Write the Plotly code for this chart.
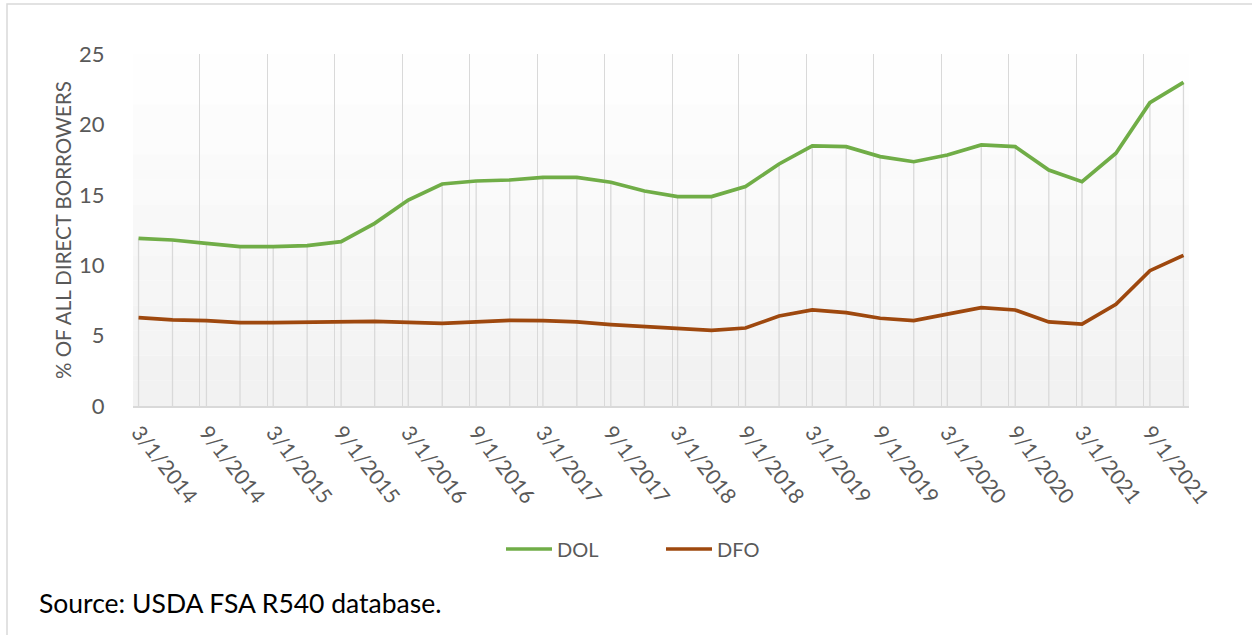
import plotly.graph_objects as go
import pandas as pd

# ---- data ----
dates = pd.date_range("2014-03-01", "2021-12-01", freq="3MS")
dol = [11.91, 11.79, 11.55, 11.32, 11.32, 11.39, 11.67, 12.97, 14.63, 15.77, 15.98, 16.05,
       16.24, 16.24, 15.89, 15.27, 14.87, 14.87, 15.58, 17.19, 18.47, 18.42, 17.71, 17.35,
       17.83, 18.54, 18.42, 16.76, 15.93, 17.95, 21.54, 22.99]
dfo = [6.27, 6.11, 6.06, 5.92, 5.92, 5.94, 6.01, 6.01, 5.94, 5.87, 5.97, 6.08,
       6.06, 5.97, 5.78, 5.63, 5.49, 5.37, 5.54, 6.39, 6.82, 6.63, 6.23, 6.06,
       6.53, 6.98, 6.82, 5.97, 5.82, 7.22, 9.61, 10.70]
series_names = ["DOL", "DFO"]
y_ticks = [0, 5, 10, 15, 20, 25]
tick_dates = list(dates[::2])
tick_text = [f"{d.month}/{d.day}/{d.year}" for d in tick_dates]

GREEN = "#70AD47"
BROWN = "#9E480E"
GRID = "#d9d9d9"
TXT = "#595959"
FONT = "Lato"

W, H = 1252, 635
L, R, T, B = 133, 1189, 54, 406   # plot area pixels

def px_x(x):
    return (x - L) / (R - L)

def px_y(y):
    return (B - y) / (B - T)

fig = go.Figure()

# drop lines from DOL down to zero
dx, dy = [], []
for d, v in zip(dates, dol):
    dx += [d, d, None]
    dy += [0, v, None]
fig.add_trace(go.Scatter(x=dx, y=dy, mode="lines", line=dict(color=GRID, width=1.3),
                         showlegend=False, hoverinfo="skip"))

fig.add_trace(go.Scatter(x=dates, y=dol, mode="lines", name=series_names[0],
                         line=dict(color=GREEN, width=3.7)))
fig.add_trace(go.Scatter(x=dates, y=dfo, mode="lines", name=series_names[1],
                         line=dict(color=BROWN, width=3.7)))

# gradient background for plot area
shapes = []
n = 14
for i in range(n):
    g = round(255 - (255 - 241) * (i + 0.5) / n)
    shapes.append(dict(type="rect", xref="paper", yref="paper",
                       x0=0, x1=1, y0=1 - (i + 1) / n, y1=1 - i / n,
                       fillcolor=f"rgb({g},{g},{g})", line=dict(width=0), layer="below"))
# outer frame (left and top edges)
shapes.append(dict(type="path", xref="paper", yref="paper",
                   path=f"M {px_x(7)},{px_y(700)} L {px_x(7)},{px_y(4)} L {px_x(1300)},{px_y(4)}",
                   line=dict(color=GRID, width=1.5)))

half_month = pd.Timedelta(days=15)
x_start = dates[0] - half_month
x_end = dates[-1] + half_month

fig.update_layout(
    width=W, height=H,
    margin=dict(l=L, r=W - R, t=T, b=H - B, autoexpand=False),
    paper_bgcolor="white", plot_bgcolor="rgba(0,0,0,0)",
    font=dict(family=FONT, color=TXT),
    shapes=shapes,
    showlegend=True,
    legend=dict(orientation="h", x=px_x(501), xanchor="left", y=px_y(549), yanchor="middle",
                font=dict(size=20, color=TXT), itemwidth=46,
                entrywidth=99, entrywidthmode="pixels",
                bgcolor="rgba(0,0,0,0)"),
    xaxis=dict(type="date", range=[x_start, x_end], showgrid=False, automargin=False,
               tickvals=tick_dates, ticktext=tick_text, tickangle=52,
               tickfont=dict(size=21, color=TXT),
               ticks="outside", ticklen=4, tickcolor="rgba(0,0,0,0)",
               showline=True, linecolor=GRID, linewidth=1.5,
               minor=dict(tick0=x_start, dtick="M6", showgrid=True, gridcolor=GRID, gridwidth=1.3),
               zeroline=False, fixedrange=True),
    yaxis=dict(range=[0, 25], tickvals=y_ticks, showgrid=False, zeroline=False, showline=False,
               automargin=False, fixedrange=True,
               tickfont=dict(size=22, color=TXT),
               ticks="outside", ticklen=23, tickcolor="rgba(0,0,0,0)"),
    annotations=[
        dict(text="% OF ALL DIRECT BORROWERS", xref="paper", yref="paper",
             x=px_x(63), y=0.5, textangle=-90, showarrow=False,
             font=dict(size=20.5, color=TXT), xanchor="center", yanchor="middle"),
        dict(text="Source: USDA FSA R540 database.", xref="paper", yref="paper",
             x=px_x(37), y=px_y(603), xanchor="left", yanchor="middle", showarrow=False,
             font=dict(size=26.5, color="black")),
    ],
)

fig.write_html("out.html", config={"displayModeBar": False},
               post_script="document.body.style.margin='0';")
